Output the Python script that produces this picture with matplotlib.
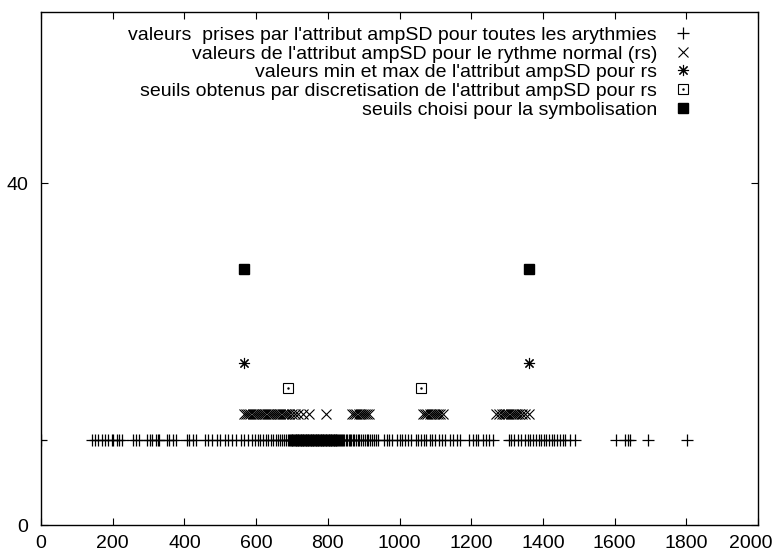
import matplotlib
matplotlib.use("Agg")
import matplotlib.pyplot as plt
from matplotlib.transforms import ScaledTranslation

plt.rcParams['font.family'] = ['Liberation Sans', 'DejaVu Sans']

# valeurs de ampSD (x) pour chaque serie, y = niveau d'affichage
toutes_x = [0,
            141, 151, 160, 169, 179, 188, 197, 202, 211, 218, 227, 258, 265, 274,
            295, 304, 311, 321, 325, 330, 351, 358, 367, 376, 406, 414, 423, 432,
            457, 467, 478, 490, 500, 512, 522, 534, 545, 558, 566, 578, 588, 597,
            604, 612, 620, 628, 634, 641, 648, 655, 660, 666, 672, 677, 683, 688,
            692, 695, 697, 699, 701, 704, 706, 708, 710, 712, 714, 716, 718, 720,
            722, 724, 726, 728, 730, 732, 734, 736, 738, 740, 742, 744, 746, 748,
            750, 752, 754, 756, 758, 760, 762, 764, 766, 768, 770, 772, 774, 776,
            778, 780, 782, 784, 786, 788, 790, 792, 794, 796, 798, 800, 802, 804,
            806, 808, 810, 812, 814, 816, 818, 820, 822, 824, 826, 828, 830, 833,
            836, 839, 842, 846, 850, 854, 858, 862, 866, 870, 874, 878, 883, 888,
            893, 898, 903, 908, 913, 918, 923, 928, 934, 940, 958, 965, 972, 980,
            992, 1000, 1008, 1016, 1024, 1032, 1045, 1052, 1060, 1068, 1075, 1085,
            1092, 1100, 1110, 1118, 1128, 1140, 1150, 1160, 1170, 1195, 1205, 1212,
            1220, 1232, 1242, 1250, 1262, 1305, 1312, 1320, 1330, 1340, 1350, 1358,
            1365, 1372, 1380, 1388, 1395, 1402, 1410, 1418, 1425, 1432, 1440, 1448,
            1455, 1462, 1476, 1490, 1604, 1629, 1636, 1643, 1693, 1802]
toutes_y = 10

rs_x = [566, 572, 578, 584, 590, 596, 602, 608, 614, 620, 626, 632, 638, 644,
        650, 656, 662, 668, 674, 680, 686, 693, 700, 708, 718, 732, 748, 795,
        868, 874, 880, 886, 892, 898, 904, 910, 916,
        1066, 1072, 1078, 1084, 1090, 1096, 1102, 1108, 1114, 1120,
        1270, 1278, 1286, 1292, 1298, 1304, 1310, 1316, 1322, 1328, 1334, 1342,
        1350, 1362]
rs_y = 13

minmax_x = [566, 1362]
minmax_y = 19

discr_x = [689, 1060]
discr_y = 16

choisi_x = [566, 1362]
choisi_y = 30

labels = ["valeurs  prises par l'attribut ampSD pour toutes les arythmies",
          "valeurs de l'attribut ampSD pour le rythme normal (rs)",
          "valeurs min et max de l'attribut ampSD pour rs",
          "seuils obtenus par discretisation de l'attribut ampSD pour rs",
          "seuils choisi pour la symbolisation"]

fig = plt.figure(figsize=(7.72, 5.54), dpi=100)
ax = fig.add_axes([41 / 772, 1 - 525 / 554, (758 - 41) / 772, (525 - 12) / 554])

h1, = ax.plot(toutes_x, [toutes_y] * len(toutes_x), '+', color='black', ms=8, mew=0.9,
              linestyle='none')
h2, = ax.plot(rs_x, [rs_y] * len(rs_x), 'x', color='black', ms=7, mew=0.8, linestyle='none')
h3, = ax.plot(minmax_x, [minmax_y] * len(minmax_x), marker=(8, 2, 0), color='black',
              ms=8, mew=0.8, linestyle='none')
h4a, = ax.plot(discr_x, [discr_y] * len(discr_x), 's', mfc='none', mec='black', ms=7,
               mew=0.8, linestyle='none')
h4b, = ax.plot(discr_x, [discr_y] * len(discr_x), '.', color='black', ms=1.5,
               linestyle='none')
h5, = ax.plot(choisi_x, [choisi_y] * len(choisi_x), 's', color='black', ms=7,
              linestyle='none')

ax.set_xlim(0, 2000)
ax.set_ylim(0, 60)
ax.set_xticks(range(0, 2001, 200))
ax.set_yticks([0, 40])
ax.tick_params(direction='in', top=True, right=True, length=5, width=0.8,
               labelsize=14)
ax.tick_params(axis='y', pad=9)
ax.tick_params(axis='x', pad=7)
for s in ax.spines.values():
    s.set_linewidth(1.0)

# le dernier label touche le bord droit
fig.canvas.draw()
last = ax.get_xticklabels()[-1]
last.set_transform(last.get_transform() + ScaledTranslation(-7 / 100, 0, fig.dpi_scale_trans))

ax.legend([h1, h2, h3, (h4a, h4b), h5], labels, loc='upper right', frameon=False,
          markerfirst=False, fontsize=14, labelspacing=0.06, handletextpad=0.6,
          handlelength=1.5, borderaxespad=0.3, bbox_to_anchor=(0.935, 0.999))

fig.savefig('out.png', dpi=100)
